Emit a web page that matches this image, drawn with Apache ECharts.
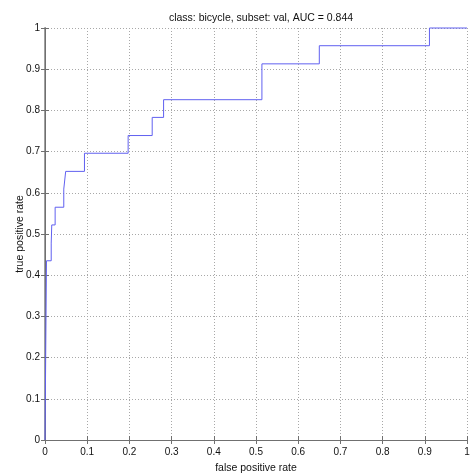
<!DOCTYPE html>
<html><head><meta charset="utf-8">
<script src="https://cdn.jsdelivr.net/npm/echarts@6/dist/echarts.min.js"></script>
<style>html,body{margin:0;padding:0;background:#fff}#c{width:473px;height:476px}</style>
</head><body><div id="c"></div>
<script>
var titleText = 'class: bicycle, subset: val, AUC = 0.844';
var xName = 'false positive rate';
var yName = 'true positive rate';
// ROC operating points (false positive rate, true positive rate)
var fpr = [0, 0.0035, 0.0147, 0.016, 0.024, 0.0445, 0.049, 0.0935, 0.197, 0.254, 0.281, 0.514, 0.65, 0.911, 1];
var tpr = [0, 0.435, 0.478, 0.522, 0.565, 0.609, 0.652, 0.696, 0.739, 0.783, 0.826, 0.913, 0.957, 1, 1];

// staircase: horizontal move to next fpr, then vertical move to next tpr
var pts = [[fpr[0], tpr[0]]];
for (var i = 1; i < fpr.length; i++) {
  pts.push([fpr[i], tpr[i - 1]]);
  pts.push([fpr[i], tpr[i]]);
}
var font = '"Liberation Sans", Arial, sans-serif';
function fmt(v) { return v === 0 ? '0' : v === 1 ? '1' : String(Math.round(v * 10) / 10); }
var gridLine = { show: true, lineStyle: { color: '#a8a8a8', type: [1, 2], width: 1 } };
var axLine = { show: true, lineStyle: { color: '#707070', width: 1 } };
var tick = { show: true, inside: true, length: 4, lineStyle: { color: '#707070' } };
var lab = { color: '#111', fontFamily: font, fontSize: 10, formatter: fmt };

var chart = echarts.init(document.getElementById('c'), null, { renderer: 'canvas' });
chart.setOption({
  animation: false,
  title: { text: titleText, left: 256, top: 8, textAlign: 'center',
    textStyle: { fontFamily: font, fontSize: 10.5, fontWeight: 'normal', color: '#111' } },
  grid: { left: 45, right: 6, top: 28, bottom: 36, containLabel: false, outerBoundsMode: 'none' },
  xAxis: [
    { type: 'value', min: 0, max: 1, interval: 0.1, position: 'bottom',
      name: xName, nameLocation: 'middle', nameGap: 23,
      nameTextStyle: { fontFamily: font, fontSize: 10.5, color: '#111' },
      axisLine: axLine, axisTick: tick, splitLine: gridLine,
      axisLabel: Object.assign({ margin: 7 }, lab) },
    { type: 'value', min: 0, max: 1, interval: 0.1, position: 'top',
      axisLine: axLine, axisTick: tick, splitLine: { show: false }, axisLabel: { show: false } }
  ],
  yAxis: [
    { type: 'value', min: 0, max: 1, interval: 0.1, position: 'left',
      name: yName, nameLocation: 'middle', nameGap: 19, nameRotate: 90, nameMoveOverlap: false,
      nameTextStyle: { fontFamily: font, fontSize: 10.5, color: '#111' },
      axisLine: { show: true, lineStyle: { color: '#a0a0a0', width: 2 } }, axisTick: tick, splitLine: gridLine,
      axisLabel: Object.assign({ margin: 5 }, lab) },
    { type: 'value', min: 0, max: 1, interval: 0.1, position: 'right',
      axisLine: axLine, axisTick: tick, splitLine: { show: false }, axisLabel: { show: false } }
  ],
  series: [{
    type: 'line', data: pts, showSymbol: false, symbol: 'none',
    lineStyle: { color: '#6060f0', width: 1 }, clip: false
  }]
});
</script></body></html>
